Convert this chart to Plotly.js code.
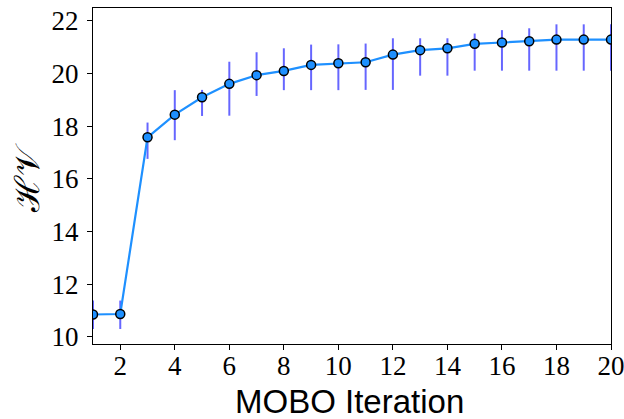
<!DOCTYPE html>
<html>
<head>
<meta charset="utf-8">
<script src="https://cdn.plot.ly/plotly-3.0.1.min.js"></script>
<style>html,body{margin:0;padding:0;background:#fff}</style>
</head>
<body>
<div id="chart" style="width:624px;height:419px"></div>
<script>
const iterations = [1,2,3,4,5,6,7,8,9,10,11,12,13,14,15,16,17,18,19,20];
const hvMean  = [10.85,10.87,17.58,18.44,19.10,19.61,19.94,20.10,20.33,20.39,20.43,20.72,20.89,20.96,21.13,21.18,21.23,21.29,21.29,21.29];
const hvUpper = [11.38,11.38,18.14,19.37,19.38,20.45,20.81,20.96,21.10,21.11,21.14,21.34,21.34,21.34,21.52,21.65,21.72,21.87,21.87,21.87];
const hvLower = [10.30,10.30,16.76,17.47,18.39,18.40,19.15,19.37,19.37,19.37,19.38,19.38,19.92,19.92,20.11,20.11,20.11,20.11,20.11,20.11];
const xTicks = [2,4,6,8,10,12,14,16,18,20];
const yTicks = [10,12,14,16,18,20,22];
const xTitle = 'MOBO Iteration';
const yTitle = 'ℋ𝒱';

const errPlus = hvUpper.map((u,i)=>u-hvMean[i]);
const errMinus = hvMean.map((m,i)=>m-hvLower[i]);

const trace = {
  x: iterations, y: hvMean, type: 'scatter', mode: 'lines+markers',
  line: {color: '#1E90FF', width: 2.2},
  marker: {color: '#1E90FF', size: 9, line: {color: '#000', width: 1.5}},
  error_y: {type: 'data', symmetric: false, array: errPlus, arrayminus: errMinus,
            color: 'rgba(0,0,255,0.6)', thickness: 2, width: 0}
};

const serif = 'Liberation Serif, DejaVu Serif, serif';
const layout = {
  width: 624, height: 419,
  margin: {l: 93, r: 13, t: 8, b: 75},
  paper_bgcolor: '#fff', plot_bgcolor: '#fff',
  showlegend: false,
  font: {family: serif, color: '#000'},
  xaxis: {
    range: [1, 20], tickvals: xTicks, ticktext: xTicks.map(String),
    ticks: 'outside', ticklen: 5, tickwidth: 1, tickcolor: '#000',
    showline: true, linecolor: '#000', linewidth: 1, mirror: true,
    showgrid: false, zeroline: false, ticklabeloverflow: 'allow', ticklabelstandoff: -7,
    tickfont: {size: 27, family: serif}
  },
  yaxis: {
    range: [9.73, 22.49], tickvals: yTicks, ticktext: yTicks.map(String),
    ticks: 'outside', ticklen: 5, tickwidth: 1, tickcolor: '#000',
    showline: true, linecolor: '#000', linewidth: 1, mirror: true,
    showgrid: false, zeroline: false, ticklabelstandoff: 3,
    tickfont: {size: 27, family: serif}
  },
  annotations: [
    {text: xTitle, xref: 'paper', yref: 'paper', x: 0.496, y: -0.172,
     xanchor: 'center', yanchor: 'middle', showarrow: false,
     font: {size: 33, family: 'Liberation Sans, Arial, sans-serif', color: '#000'}},
    {text: yTitle, xref: 'paper', yref: 'paper', x: -0.1284, y: 0.4955,
     xanchor: 'center', yanchor: 'middle', showarrow: false, textangle: -90,
     font: {size: 34, family: 'DejaVu Serif, serif', color: '#000'}}
  ]
};

Plotly.newPlot('chart', [trace], layout, {displayModeBar: false, staticPlot: true});
</script>
</body>
</html>
